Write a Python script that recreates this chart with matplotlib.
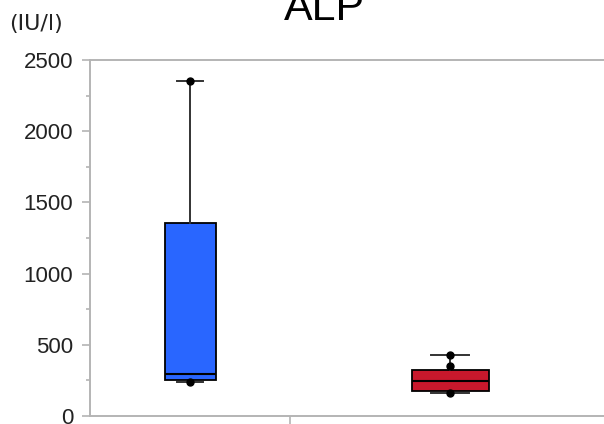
import numpy as np
import matplotlib.pyplot as plt
from matplotlib.ticker import MultipleLocator

# box statistics for the two groups (IU/l)
positions = [0.5, 1.8]
widths = [0.255, 0.385]
q1 = [253, 176]
med = [295, 246]
q3 = [1355, 323]
whislo = [240, 162]
whishi = [2355, 428]
colors = ['#2966ff', '#c8182c']

# individual values shown as dots
points = [[2355, 240], [428, 350, 160]]

plt.rcParams['font.family'] = ['Liberation Sans', 'DejaVu Sans']

fig = plt.figure(figsize=(6.04, 4.24), dpi=100)
ax = fig.add_axes([90/604, 8/424, 514/604, 356/424])

stats = []
for i in range(len(positions)):
    stats.append(dict(med=med[i], q1=q1[i], q3=q3[i],
                      whislo=whislo[i], whishi=whishi[i], fliers=[]))

bp = ax.bxp(stats, positions=positions, widths=widths, patch_artist=True,
            showfliers=False,
            boxprops=dict(edgecolor='black', linewidth=1.3),
            medianprops=dict(color='black', linewidth=1.5),
            whiskerprops=dict(color='#333333', linewidth=1.4),
            capprops=dict(color='#333333', linewidth=1.4))
for box, c in zip(bp['boxes'], colors):
    box.set_facecolor(c)

for x, vals in zip(positions, points):
    ax.plot([x]*len(vals), vals, 'o', color='black', markersize=5, zorder=5)

ax.set_xlim(0, 2.57)
ax.set_ylim(0, 2500)
ax.set_xticks([1.0])
ax.set_xticklabels([''])
ax.yaxis.set_major_locator(MultipleLocator(500))
ax.yaxis.set_minor_locator(MultipleLocator(250))

for s in ['left', 'bottom', 'top']:
    ax.spines[s].set_color('#b4b4b4')
    ax.spines[s].set_linewidth(1.4)
ax.spines['right'].set_visible(False)

ax.tick_params(axis='y', which='major', length=6, width=1.2, color='#b4b4b4',
               labelsize=16, pad=6, labelcolor='#222222')
ax.tick_params(axis='y', which='minor', length=3, width=1.2, color='#b4b4b4')
ax.tick_params(axis='x', length=6, width=1.2, color='#b4b4b4')

fig.text(324/604, 1 - 20/424, 'ALP', ha='center', va='baseline', fontsize=31)
fig.text(9/604, 1 - 30/424, '(IU/l)', ha='left', va='baseline', fontsize=16,
         family=['DejaVu Sans'], color='#222222')

fig.savefig('out.png', dpi=100)
